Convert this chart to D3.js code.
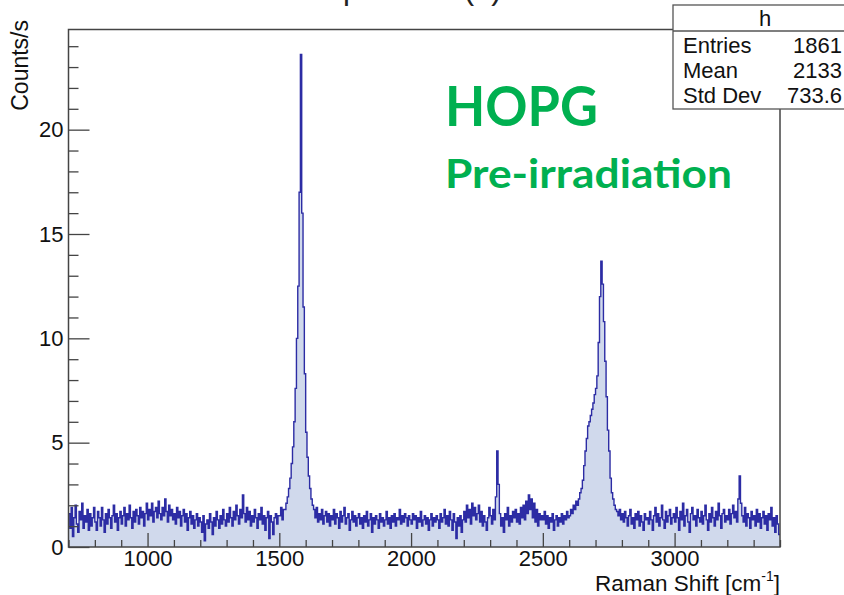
<!DOCTYPE html>
<html>
<head>
<meta charset="utf-8">
<script src="https://cdn.jsdelivr.net/npm/d3@7"></script>
<style>
  body { margin: 0; background: #fff; }
  svg { display: block; font-family: "Liberation Sans", Arial, sans-serif; }
</style>
</head>
<body>
<svg id="chart" width="844" height="595"></svg>
<script>
// spectrum: one value per 5 cm-1 bin starting at 700
const SHIFT_START = 700;
const BIN_WIDTH = 5;
const counts = [
  1.6,0.9,1.9,0.5,1.4,2.0,1.1,0.7,1.7,1.3,2.1,0.9,1.5,1.2,1.8,0.8,1.6,1.0,1.4,1.9, // 700
  1.2,0.8,1.7,1.4,1.0,1.9,1.3,0.7,1.6,1.1,1.8,1.4,0.9,1.5,2.0,1.2,1.6,0.8,1.4,1.7, // 800
  1.1,1.5,1.9,1.0,1.6,1.3,2.0,1.4,0.9,1.7,1.2,1.8,1.5,1.1,1.9,1.4,1.7,1.0,1.6,2.1, // 900
  1.3,1.8,1.5,2.1,1.2,1.7,1.9,1.4,2.2,1.6,1.3,1.9,1.5,2.3,1.7,1.2,2.0,1.5,1.8,1.3, // 1000
  1.6,1.1,1.9,1.4,1.7,1.0,1.5,1.8,1.2,1.6,0.8,1.4,1.7,1.1,1.5,0.9,1.3,1.6,1.0,1.4, // 1100
  1.2,0.7,1.5,0.3,1.1,1.3,0.9,1.6,1.2,0.6,1.4,1.0,1.7,1.3,0.9,1.5,1.1,1.8,1.3,1.0, // 1200
  1.6,1.2,1.9,1.4,1.0,1.7,1.3,2.0,1.5,1.1,1.8,1.4,2.5,1.6,1.2,1.9,1.3,1.7,1.0,1.5, // 1300
  1.2,1.8,1.4,0.9,1.6,1.3,1.9,1.1,1.5,0.8,1.4,1.7,0.4,1.5,1.2,0.6,1.4,1.6,1.1,1.5, // 1400
  1.5,1.9,1.3,1.8,1.8,2.1,2.4,2.8,3.3,4.0,4.8,6.0,7.6,10.0,12.5,17.0,23.6,16.0,11.5,8.3, // 1500
  5.5,4.3,3.4,2.8,2.3,2.0,1.8,1.4,1.9,1.2,1.6,1.3,1.8,1.1,1.5,1.7,1.2,1.6,1.0,1.5, // 1600
  1.3,1.8,1.1,1.6,1.4,0.9,1.7,1.2,1.5,1.9,1.1,1.4,1.6,0.8,1.3,1.7,1.2,1.5,1.0,1.4, // 1700
  1.6,1.1,1.4,0.9,1.5,1.2,1.7,1.0,1.3,1.6,0.7,1.4,1.1,1.5,1.3,0.9,1.6,1.2,1.4,1.0, // 1800
  1.3,1.7,1.1,1.4,0.9,1.5,1.2,1.6,1.0,1.4,1.3,1.8,1.1,1.5,1.2,1.6,1.4,1.0,1.5,1.3, // 1900
  1.1,1.6,1.3,1.5,0.9,1.4,1.2,1.7,1.0,1.3,1.5,1.1,1.4,0.8,1.3,1.6,1.0,1.4,1.2,1.5, // 2000
  1.3,0.9,1.6,1.2,1.4,1.8,1.1,1.5,1.0,1.7,1.3,0.8,1.6,1.2,0.4,1.4,1.0,1.5,0.7,1.3, // 2100
  1.7,1.2,2.0,1.4,1.8,1.1,2.1,1.5,1.9,1.3,1.6,2.0,1.2,1.7,1.0,1.5,1.2,0.8,1.4,1.9, // 2200
  1.5,1.1,1.8,1.3,2.4,4.6,3.0,1.6,1.0,1.4,0.7,1.6,1.3,1.9,1.0,1.5,1.2,1.7,1.4,1.8, // 2300
  1.2,1.6,1.1,1.9,1.4,2.0,1.3,2.2,1.6,2.5,1.8,2.3,1.4,2.1,1.2,1.8,1.0,1.6,1.3,1.5, // 2400
  1.3,1.7,1.1,1.5,0.9,1.4,1.2,1.6,0.8,1.3,1.5,1.0,1.4,1.2,1.6,1.1,1.5,1.3,1.7,1.4, // 2500
  1.5,1.8,1.6,2.0,1.8,2.2,2.0,2.3,2.6,2.8,3.2,3.9,4.6,5.2,5.8,6.0,6.3,6.6,6.9,7.3, // 2600
  7.6,8.2,9.8,12.0,13.7,12.6,10.8,8.9,7.2,5.6,4.6,3.3,2.6,2.3,2.0,1.8,1.7,1.5,1.8,1.3, // 2700
  1.6,1.2,1.7,1.4,1.0,1.5,1.8,1.1,1.4,0.9,1.6,1.3,1.7,1.0,1.5,1.2,0.8,1.6,1.3,1.4, // 2800
  1.1,1.7,1.3,0.8,1.5,1.9,1.2,1.6,1.0,1.4,2.0,1.3,0.9,1.7,1.2,1.5,1.8,1.1,1.4,1.6, // 2900
  1.2,1.9,1.4,0.8,1.7,1.3,2.1,1.0,1.5,1.8,1.2,0.7,1.6,1.9,1.3,1.5,1.0,1.8,1.4,1.2, // 3000
  1.7,1.1,1.5,2.0,1.3,0.8,1.6,1.2,1.9,1.4,1.0,1.7,1.3,2.1,1.5,0.9,1.6,1.8,1.2,1.5, // 3100
  1.3,1.8,1.1,1.6,2.0,1.4,1.7,1.2,2.3,3.4,2.1,1.5,1.2,1.9,1.0,1.6,1.4,0.9,1.7,1.3, // 3200
  1.5,1.0,1.8,1.2,1.6,0.9,1.4,1.7,1.1,1.5,0.8,1.6,1.3,1.9,1.0,1.4,0.7,1.5,1.1,0.6  // 3300
];

const xDomain = [700, 3400];
const yDomain = [0, 24.8];
const xTicks = [1000, 1500, 2000, 2500, 3000];
const yTicks = [0, 5, 10, 15, 20];
const xMinorTicks = d3.range(700, 3401, 100).filter((d) => d % 500 !== 0);
const yMinorTicks = d3.range(0, 25, 1).filter((d) => d % 5 !== 0);

const statsName = "h";
const statsLabels = ["Entries", "Mean", "Std Dev"];
const statsValues = ["1861", "2133", "733.6"];

const FRAME = { left: 68.5, right: 780, top: 29.5, bottom: 547 };
const LINE_COLOR = "#2c2ca4";
const FILL_COLOR = "#d0d9ec";
const AXIS_COLOR = "#444";
const GREEN = "#00b050";

const svg = d3.select("#chart");

const x = d3.scaleLinear().domain(xDomain).range([FRAME.left, FRAME.right]);
const y = d3.scaleLinear().domain(yDomain).range([FRAME.bottom, FRAME.top]);

// clipped title, only its descenders show in the picture
svg
  .append("text")
  .attr("x", 219)
  .attr("y", -1)
  .attr("font-size", 31)
  .attr("fill", "#222")
  .text("Raman spectrum (1)");

svg
  .append("defs")
  .append("clipPath")
  .attr("id", "frame-clip")
  .append("rect")
  .attr("x", FRAME.left)
  .attr("y", FRAME.top)
  .attr("width", FRAME.right - FRAME.left)
  .attr("height", FRAME.bottom - FRAME.top);

const bins = counts.map((v, i) => ({ x0: SHIFT_START + i * BIN_WIDTH, v }));
const stepPoints = [
  ...bins,
  { x0: SHIFT_START + counts.length * BIN_WIDTH, v: counts[counts.length - 1] },
];

const histGroup = svg.append("g").attr("clip-path", "url(#frame-clip)");

histGroup
  .append("path")
  .datum(stepPoints)
  .attr("fill", FILL_COLOR)
  .attr(
    "d",
    d3
      .area()
      .curve(d3.curveStepAfter)
      .x((d) => x(d.x0))
      .y0(y(0))
      .y1((d) => y(d.v))
  );

histGroup
  .append("path")
  .datum(stepPoints)
  .attr("fill", "none")
  .attr("stroke", LINE_COLOR)
  .attr("stroke-width", 1.4)
  .attr(
    "d",
    d3
      .line()
      .curve(d3.curveStepAfter)
      .x((d) => x(d.x0))
      .y((d) => y(d.v))
  );

// axes, ROOT style: ticks point into the frame
const styleAxis = (g) => {
  g.attr("font-family", null).attr("font-size", null);
  g.select(".domain").remove();
  g.selectAll("line").attr("stroke", AXIS_COLOR).attr("stroke-width", 1.3);
  g.selectAll("text").attr("fill", "#111").attr("font-size", 22);
};

svg
  .append("g")
  .attr("transform", `translate(0,${FRAME.bottom})`)
  .call(
    d3
      .axisBottom(x)
      .tickValues(xTicks)
      .tickSize(-14)
      .tickPadding(3)
      .tickFormat(d3.format("d"))
  )
  .call(styleAxis);

svg
  .append("g")
  .attr("transform", `translate(0,${FRAME.bottom})`)
  .call(d3.axisBottom(x).tickValues(xMinorTicks).tickSize(-7).tickFormat(""))
  .call(styleAxis);

svg
  .append("g")
  .attr("transform", `translate(${FRAME.left},0)`)
  .call(d3.axisLeft(y).tickValues(yTicks).tickSize(-21).tickPadding(5))
  .call(styleAxis);

svg
  .append("g")
  .attr("transform", `translate(${FRAME.left},0)`)
  .call(d3.axisLeft(y).tickValues(yMinorTicks).tickSize(-10).tickFormat(""))
  .call(styleAxis);

svg
  .append("rect")
  .attr("x", FRAME.left)
  .attr("y", FRAME.top)
  .attr("width", FRAME.right - FRAME.left)
  .attr("height", FRAME.bottom - FRAME.top)
  .attr("fill", "none")
  .attr("stroke", AXIS_COLOR)
  .attr("stroke-width", 1.5);

// axis titles
svg
  .append("text")
  .attr("transform", "translate(28,20) rotate(-90)")
  .attr("text-anchor", "end")
  .attr("font-size", 23)
  .attr("fill", "#111")
  .text("Counts/s");

const xTitle = svg
  .append("text")
  .attr("x", FRAME.right)
  .attr("y", 591)
  .attr("text-anchor", "end")
  .attr("font-size", 22.5)
  .attr("fill", "#111");
xTitle.append("tspan").text("Raman Shift [cm");
xTitle.append("tspan").attr("font-size", 14).attr("dy", -10).text("-1");
xTitle.append("tspan").attr("dy", 10).text("]");

// stats box
const ROW_Y = [53, 78, 103];
const stats = svg.append("g");
stats
  .append("rect")
  .attr("x", 673)
  .attr("y", 5)
  .attr("width", 200)
  .attr("height", 104)
  .attr("fill", "#fff")
  .attr("stroke", "#555")
  .attr("stroke-width", 1.3);
stats
  .append("line")
  .attr("x1", 673)
  .attr("x2", 873)
  .attr("y1", 31)
  .attr("y2", 31)
  .attr("stroke", "#555")
  .attr("stroke-width", 1.3);
stats
  .append("text")
  .attr("x", 765)
  .attr("y", 26)
  .attr("text-anchor", "middle")
  .attr("font-size", 22)
  .attr("fill", "#111")
  .text(statsName);
stats
  .selectAll("text.label")
  .data(statsLabels)
  .join("text")
  .attr("class", "label")
  .attr("x", 683)
  .attr("y", (d, i) => ROW_Y[i])
  .attr("font-size", 22)
  .attr("fill", "#111")
  .text((d) => d);
stats
  .selectAll("text.value")
  .data(statsValues)
  .join("text")
  .attr("class", "value")
  .attr("x", 842)
  .attr("y", (d, i) => ROW_Y[i])
  .attr("text-anchor", "end")
  .attr("font-size", 22)
  .attr("fill", "#111")
  .text((d) => d);

// green annotation
svg
  .append("text")
  .attr("x", 445)
  .attr("y", 126)
  .attr("font-family", "Lato, 'Open Sans', sans-serif")
  .attr("font-weight", "bold")
  .attr("font-size", 55)
  .attr("fill", GREEN)
  .attr("textLength", 153)
  .attr("lengthAdjust", "spacingAndGlyphs")
  .text("HOPG");
svg
  .append("text")
  .attr("x", 445)
  .attr("y", 188)
  .attr("font-family", "Lato, 'Open Sans', sans-serif")
  .attr("font-weight", "bold")
  .attr("font-size", 40)
  .attr("fill", GREEN)
  .attr("textLength", 287)
  .attr("lengthAdjust", "spacingAndGlyphs")
  .text("Pre-irradiation");
</script>
</body>
</html>
